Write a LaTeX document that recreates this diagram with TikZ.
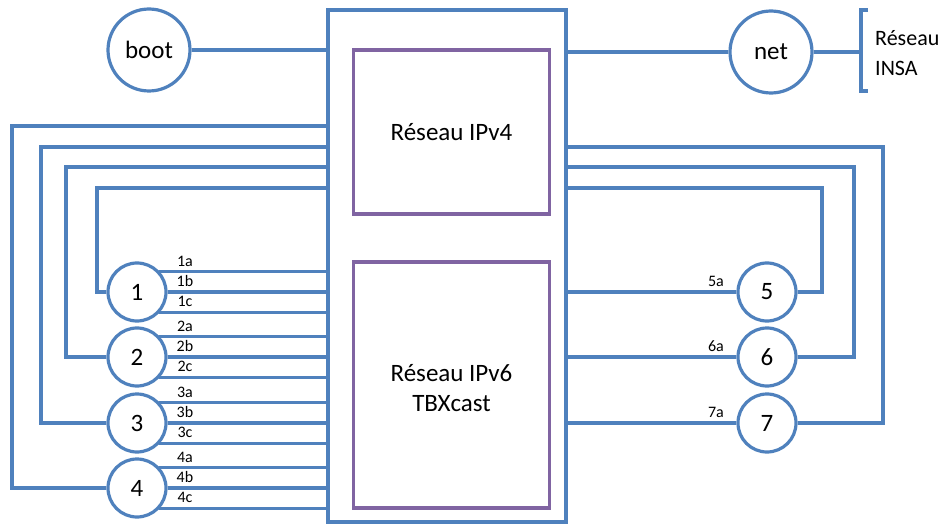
\documentclass[tikz,border=0pt]{standalone}
\usepackage{fontspec}
\setmainfont{Carlito}
\usetikzlibrary{calc}
\definecolor{lblue}{HTML}{4F81BD}
\definecolor{lpurple}{HTML}{8064A2}
\tikzset{
  wire/.style={draw=lblue, line width=3.2pt},
  bignode/.style={circle, draw=lblue, line width=3.2pt, fill=white, minimum size=82pt, inner sep=0pt, font=\fontsize{25}{30}\selectfont},
  numnode/.style={circle, draw=lblue, line width=3.2pt, fill=white, minimum size=58pt, inner sep=0pt, font=\fontsize{25}{30}\selectfont},
  portlbl/.style={inner sep=0pt, font=\fontsize{16}{18}\selectfont, anchor=base},
  netbox/.style={draw=lpurple, line width=3.2pt, inner sep=0pt},
  bigtext/.style={font=\fontsize{25}{30}\selectfont, align=center}
}
\begin{document}
\begin{tikzpicture}[x=1pt,y=-1pt]
\useasboundingbox (0,0) rectangle (946,524);
% outer box
\node[draw=lblue, line width=3.2pt, minimum width=238pt, minimum height=512pt, inner sep=0pt] (box) at (447,266) {};
\node[netbox, minimum width=196pt, minimum height=164pt] (v4) at (451.5,132) {};
\node[netbox, minimum width=196pt, minimum height=246pt] (v6) at (451.5,385) {};
\node[bigtext] (t4) at (451.5,132) {Réseau IPv4};
\node[bigtext] (t6) at (451.5,388) {Réseau IPv6\\TBXcast};

% boot and net
\node[bignode] (boot) at (149,50) {boot};
\node[bignode] (net) at (771,52) {net};
\draw[wire] (boot.east) -- (boot.east -| box.west);
\draw[wire] (net.west -| box.east) -- (net.west);
\coordinate (br) at (861,52);
\draw[wire] (net.east) -- (br);
\draw[wire] (868,10) -- (861,10) -- (861,91) -- (868,91);
\node[inner sep=0pt, anchor=west, align=left, font=\fontsize{22}{30}\selectfont] (insa) at (875,53) {Réseau\\INSA};

% left nodes
\foreach \n/\cy/\lx/\ly in {1/292/97/188, 2/357/66/167, 3/423/41/147, 4/488/12/126}{
  \node[numnode] (n\n) at (137,\cy) {\n};
  \draw[wire] (n\n.43.6) -- (n\n.43.6 -| box.west);
  \draw[wire] (n\n.east) -- (n\n.east -| box.west);
  \draw[wire] (n\n.-43.6) -- (n\n.-43.6 -| box.west);
  \coordinate (lc\n) at (\lx,\ly);
  \draw[wire] (n\n.west) -| (lc\n) -- (lc\n -| box.west);
  \node[portlbl] (l\n a) at (185,\cy-26) {\n a};
  \node[portlbl] (l\n b) at (185,\cy-6) {\n b};
  \node[portlbl] (l\n c) at (185,\cy+14) {\n c};
}
% right nodes
\foreach \n/\cy/\rx/\ry in {5/292/822/188, 6/357/854/167, 7/423/883/147}{
  \node[numnode] (n\n) at (767,\cy) {\n};
  \draw[wire] (n\n.west -| box.east) -- (n\n.west);
  \coordinate (rc\n) at (\rx,\ry);
  \draw[wire] (n\n.east) -| (rc\n) -- (rc\n -| box.east);
  \node[portlbl] (l\n a) at (716,\cy-6) {\n a};
}
\end{tikzpicture}
\end{document}
